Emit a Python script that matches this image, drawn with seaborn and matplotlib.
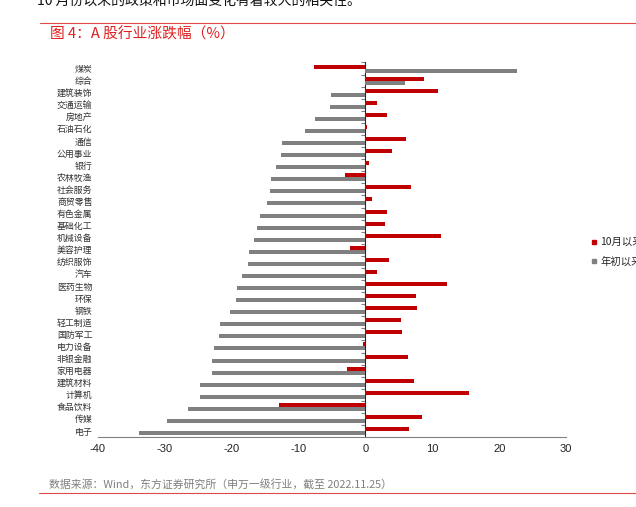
import numpy as np
import pandas as pd
import matplotlib
matplotlib.use("Agg")
import matplotlib.pyplot as plt
import seaborn as sns
from matplotlib.lines import Line2D

# Shenwan level-1 industries, top to bottom
industries = ['煤炭', '综合', '建筑装饰', '交通运输', '房地产', '石油石化', '通信', '公用事业',
              '银行', '农林牧渔', '社会服务', '商贸零售', '有色金属', '基础化工', '机械设备',
              '美容护理', '纺织服饰', '汽车', '医药生物', '环保', '钢铁', '轻工制造', '国防军工',
              '电力设备', '非银金融', '家用电器', '建筑材料', '计算机', '食品饮料', '传媒', '电子']

# change since October (%)
since_oct = [-7.7, 8.8, 10.8, 1.8, 3.2, 0.2, 6.1, 4.0,
             0.6, -3.0, 6.8, 1.0, 3.2, 3.0, 11.3,
             -2.3, 3.5, 1.8, 12.2, 7.5, 7.7, 5.3, 5.5,
             -0.4, 6.3, -2.7, 7.3, 15.5, -12.9, 8.4, 6.5]

# change since start of year (%)
since_ytd = [22.6, 5.9, -5.1, -5.3, -7.5, -9.1, -12.5, -12.7,
             -13.4, -14.1, -14.2, -14.7, -15.8, -16.2, -16.6,
             -17.4, -17.6, -18.4, -19.2, -19.3, -20.3, -21.8, -21.9,
             -22.7, -23.0, -23.0, -24.7, -24.7, -26.5, -29.7, -33.8]

series_names = ['10月以来', '年初以来']
x_ticks = [-40, -30, -20, -10, 0, 10, 20, 30]

RED = '#C00000'
GRAY = '#808080'
LINE_RED = '#E04848'

df = pd.DataFrame({
    'industry': industries * 2,
    'value': since_oct + since_ytd,
    'series': [series_names[0]] * len(industries) + [series_names[1]] * len(industries),
})

sns.set_style("white")
plt.rcParams['font.family'] = ['Noto Sans CJK SC', 'DejaVu Sans']

fig = plt.figure(figsize=(6.36, 5.07), dpi=100)
ax = fig.add_axes([98 / 636, 1 - 436.5 / 507, (566 - 98) / 636, (436.5 - 62.5) / 507])

sns.barplot(data=df, x='value', y='industry', hue='series', orient='h',
            palette=[RED, GRAY], width=0.66, saturation=1, linewidth=0, ax=ax)

ax.set_xlim(x_ticks[0], x_ticks[-1])
ax.set_ylim(len(industries) - 0.55, -0.5)
ax.set_xticks(x_ticks)
ax.set_xticklabels([str(t) for t in x_ticks], fontfamily='Liberation Sans',
                   fontsize=8, color='#222222')
ax.set_xlabel('')
ax.set_ylabel('')

for side in ['top', 'right', 'left']:
    ax.spines[side].set_visible(False)
ax.spines['bottom'].set_color(GRAY)
ax.spines['bottom'].set_linewidth(0.8)
ax.tick_params(axis='x', direction='in', length=3, width=0.8, color=GRAY, pad=5.5)
ax.tick_params(axis='y', length=0, pad=4, labelsize=6.4, labelcolor='#333333')

# vertical zero axis with small ticks on category boundaries
zero_pos = (0 - x_ticks[0]) / (x_ticks[-1] - x_ticks[0])
sec = ax.secondary_yaxis(zero_pos)
sec.set_yticks(np.arange(-0.5, len(industries), 1.0))
sec.set_yticklabels([])
sec.tick_params(direction='in', length=3, width=0.8, color=GRAY)
sec.spines['left'].set_color(GRAY)
sec.spines['left'].set_linewidth(0.8)

handles = [Line2D([], [], marker='s', linestyle='', markersize=3.5, color=c) for c in [RED, GRAY]]
ax.legend(handles, series_names, loc='upper left', frameon=False,
          bbox_to_anchor=(590 / 636, 1 - 237 / 507), bbox_transform=fig.transFigure,
          fontsize=7.5, handlelength=0.7, handletextpad=0.3, labelspacing=0.9,
          borderpad=0, borderaxespad=0)

# page text around the chart
fig.text(37 / 636, 1 - 5 / 507, '10 月份以来的政策和市场面变化有着较大的相关性。',
         fontsize=10, color='#111111', va='baseline', ha='left')
fig.add_artist(Line2D([40 / 636, 1], [1 - 23.3 / 507] * 2, color=LINE_RED, lw=0.8))
fig.text(50 / 636, 1 - 34 / 507, '图 4：A 股行业涨跌幅（%）', fontsize=10.6,
         color='#E02020', va='center', ha='left')
fig.text(49 / 636, 1 - 484 / 507, '数据来源：Wind，东方证券研究所（申万一级行业，截至 2022.11.25）',
         fontsize=7.8, color='#7f7f7f', va='center', ha='left')
fig.add_artist(Line2D([39 / 636, 1], [1 - 492.7 / 507] * 2, color=LINE_RED, lw=0.8))

fig.savefig('out.png', dpi=100)
